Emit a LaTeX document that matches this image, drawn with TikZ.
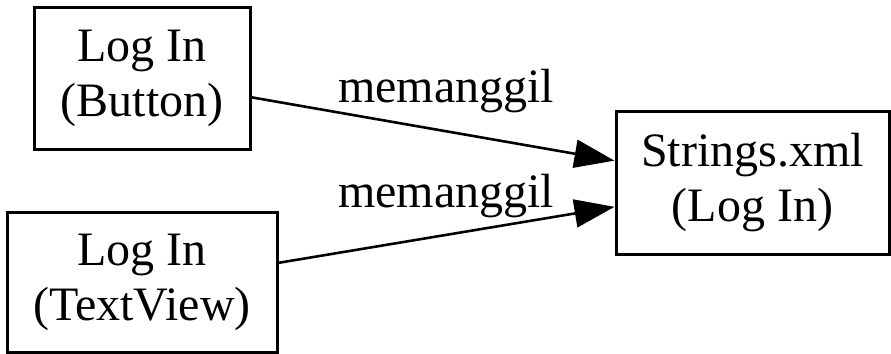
\documentclass[tikz,border=0pt]{standalone}
\usepackage{fontspec}
\setmainfont{Liberation Serif}
\usetikzlibrary{arrows.meta}
\tikzset{
    box/.style={draw,line width=1.5pt,align=center,font=\fontsize{24}{27.5}\selectfont,inner sep=0pt,
        execute at begin node=\rule{0pt}{21pt}},
    lbl/.style={anchor=base,font=\fontsize{24}{27.5}\selectfont,inner sep=0pt},
    calls/.style={line width=1.3pt,-{Triangle[length=20pt,width=14pt]}}
}
\begin{document}
\begin{tikzpicture}[x=0.5pt,y=-0.5pt]
    \useasboundingbox (0,0) rectangle (891,354);
    \node[box,minimum width=108pt,minimum height=71pt] (btn) at (142,78) {Log In\\(Button)};
    \node[box,minimum width=135pt,minimum height=70pt] (tv) at (142,282) {Log In\\(TextView)};
    \node[box,minimum width=136.5pt,minimum height=71.5pt] (str) at (752.5,182.5) {Strings.xml\\(Log In)};
    \node[lbl] (lblA) at (446,102) {memanggil};
    \node[lbl] (lblB) at (446,207) {memanggil};
    \draw[calls] (btn.-10) -- (str.171);
    \draw[calls] (tv.8) -- (str.-170);
\end{tikzpicture}
\end{document}
